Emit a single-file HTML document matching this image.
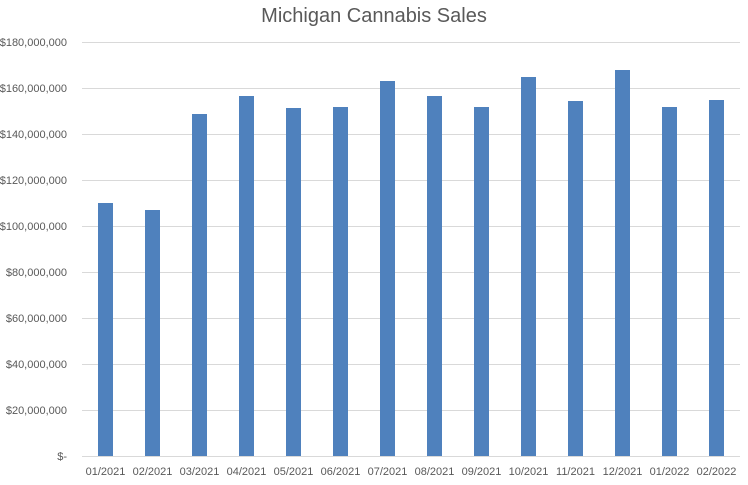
<!DOCTYPE html><html><head><style>body{margin:0;background:#fff}svg text{font-family:"Liberation Sans",sans-serif;fill:#595959}</style></head><body>
<svg width="748" height="480" xmlns="http://www.w3.org/2000/svg">
<text x="374" y="22" font-size="20" text-anchor="middle">Michigan Cannabis Sales</text>
<g stroke="#d9d9d9" stroke-width="1">
<line x1="82" x2="740" y1="456.5" y2="456.5"/><line x1="82" x2="740" y1="410.5" y2="410.5"/><line x1="82" x2="740" y1="364.5" y2="364.5"/><line x1="82" x2="740" y1="318.5" y2="318.5"/><line x1="82" x2="740" y1="272.5" y2="272.5"/><line x1="82" x2="740" y1="226.5" y2="226.5"/><line x1="82" x2="740" y1="180.5" y2="180.5"/><line x1="82" x2="740" y1="134.5" y2="134.5"/><line x1="82" x2="740" y1="88.5" y2="88.5"/><line x1="82" x2="740" y1="42.5" y2="42.5"/>
</g>
<g font-size="11" text-anchor="end">
<text x="67" y="460">$-</text><text x="67" y="414">$20,000,000</text><text x="67" y="368">$40,000,000</text><text x="67" y="322">$60,000,000</text><text x="67" y="276">$80,000,000</text><text x="67" y="230">$100,000,000</text><text x="67" y="184">$120,000,000</text><text x="67" y="138">$140,000,000</text><text x="67" y="92">$160,000,000</text><text x="67" y="46">$180,000,000</text>
</g>
<g fill="#4f81bd">
<rect x="98" y="203" width="15" height="253"/>
<rect x="145" y="210" width="15" height="246"/>
<rect x="192" y="114" width="15" height="342"/>
<rect x="239" y="96" width="15" height="360"/>
<rect x="286" y="108" width="15" height="348"/>
<rect x="333" y="107" width="15" height="349"/>
<rect x="380" y="81" width="15" height="375"/>
<rect x="427" y="96" width="15" height="360"/>
<rect x="474" y="107" width="15" height="349"/>
<rect x="521" y="77" width="15" height="379"/>
<rect x="568" y="101" width="15" height="355"/>
<rect x="615" y="70" width="15" height="386"/>
<rect x="662" y="107" width="15" height="349"/>
<rect x="709" y="100" width="15" height="356"/>
</g>
<g font-size="11" text-anchor="middle">
<text x="105.5" y="475">01/2021</text><text x="152.5" y="475">02/2021</text><text x="199.5" y="475">03/2021</text><text x="246.5" y="475">04/2021</text><text x="293.5" y="475">05/2021</text><text x="340.5" y="475">06/2021</text><text x="387.5" y="475">07/2021</text><text x="434.5" y="475">08/2021</text><text x="481.5" y="475">09/2021</text><text x="528.5" y="475">10/2021</text><text x="575.5" y="475">11/2021</text><text x="622.5" y="475">12/2021</text><text x="669.5" y="475">01/2022</text><text x="716.5" y="475">02/2022</text>
</g>
</svg></body></html>
